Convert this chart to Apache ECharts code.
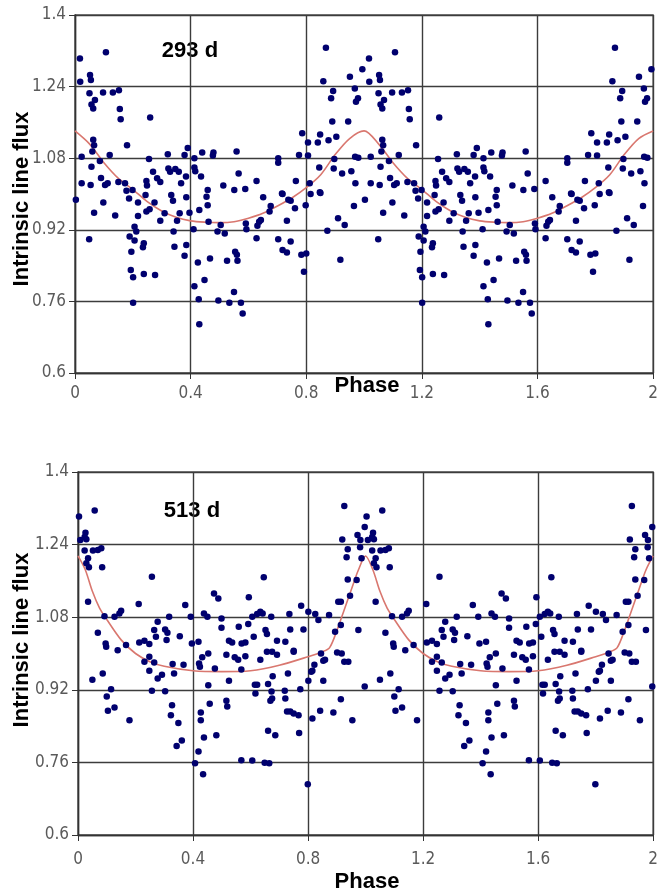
<!DOCTYPE html>
<html>
<head>
<meta charset="utf-8">
<script src="https://cdn.jsdelivr.net/npm/echarts@6/dist/echarts.min.js"></script>
<style>
  html, body { margin: 0; padding: 0; background: #fff; }
  #chart { width: 661px; height: 894px; }
</style>
</head>
<body>
<div id="chart"></div>
<script>
// phase-folded measurements, phase 0..1 (the plot shows two cycles)
const phase293 = [
  0.017, 0.107, 0.018, 0.052, 0.055, 0.05, 0.097, 0.131, 0.152, 0.069, 0.057, 0.063, 0.155, 0.158, 0.26,
  0.063, 0.066, 0.06, 0.18, 0.023, 0.12, 0.086, 0.256, 0.321, 0.39, 0.379, 0.413, 0.44, 0.479, 0.477,
  0.559, 0.703, 0.703, 0.775, 0.786, 0.806, 0.806, 0.84, 0.848, 0.877, 0.904, 0.89, 0.945, 0.886, 0.893,
  0.859, 0.951, 0.994, 0.968, 0.972, 0.979, 0.868, 0.897, 0.969, 0.98, 0.057, 0.09, 0.104, 0.113, 0.023,
  0.054, 0.15, 0.173, 0.178, 0.199, 0.247, 0.249, 0.27, 0.284, 0.295, 0.323, 0.329, 0.347, 0.359, 0.367,
  0.384, 0.413, 0.416, 0.436, 0.459, 0.513, 0.551, 0.566, 0.589, 0.628, 0.716, 0.764, 0.812, 0.847, 0.845,
  0.895, 0.924, 0.956, 0.97, 0.003, 0.098, 0.066, 0.139, 0.187, 0.218, 0.218, 0.244, 0.258, 0.247, 0.275,
  0.31, 0.295, 0.206, 0.212, 0.189, 0.206, 0.195, 0.238, 0.235, 0.049, 0.193, 0.201, 0.238, 0.277, 0.201,
  0.333, 0.339, 0.385, 0.362, 0.353, 0.396, 0.341, 0.344, 0.385, 0.379, 0.41, 0.43, 0.455, 0.459, 0.462,
  0.493, 0.504, 0.518, 0.425, 0.467, 0.448, 0.413, 0.428, 0.496, 0.534, 0.55, 0.574, 0.58, 0.43, 0.526,
  0.554, 0.56, 0.562, 0.591, 0.593, 0.637, 0.643, 0.631, 0.628, 0.651, 0.677, 0.673, 0.718, 0.738, 0.746,
  0.761, 0.733, 0.703, 0.718, 0.733, 0.746, 0.783, 0.8, 0.792, 0.798, 0.815, 0.849, 0.873, 0.91, 0.933,
  0.918, 0.965
];
const flux293 = [
  1.303, 1.317, 1.251, 1.266, 1.255, 1.225, 1.227, 1.227, 1.232, 1.21, 1.2, 1.191, 1.19, 1.167, 1.171,
  1.121, 1.109, 1.095, 1.109, 1.083, 1.087, 1.074, 1.078, 1.089, 1.103, 1.087, 1.08, 1.093, 1.093, 1.086,
  1.095, 1.08, 1.07, 1.087, 1.136, 1.115, 1.086, 1.115, 1.133, 1.12, 1.128, 1.162, 1.162, 1.214, 1.23,
  1.252, 1.262, 1.279, 1.236, 1.206, 1.214, 1.327, 1.078, 1.083, 1.081, 1.061, 1.036, 1.02, 1.024, 1.024,
  1.02, 1.027, 1.024, 1.007, 1.009, 1.029, 1.019, 1.05, 1.035, 1.027, 1.057, 1.05, 1.056, 1.05, 1.024,
  1.039, 1.059, 1.051, 1.039, 1.009, 1.019, 1.009, 1.046, 1.011, 1.029, 1.001, 1.029, 1.024, 1.004, 1.059,
  1.057, 1.046, 1.051, 1.024, 0.987, 0.981, 0.958, 0.952, 0.99, 0.981, 0.951, 0.998, 0.966, 0.961, 0.981,
  0.957, 0.94, 0.927, 0.916, 0.905, 0.896, 0.871, 0.89, 0.881, 0.899, 0.83, 0.814, 0.821, 0.819, 0.757,
  0.998, 0.985, 0.993, 0.957, 0.94, 0.958, 0.916, 0.882, 0.886, 0.862, 0.921, 0.964, 0.994, 0.975, 0.938,
  0.916, 0.931, 0.912, 0.847, 0.856, 0.808, 0.794, 0.765, 0.762, 0.757, 0.781, 0.757, 0.733, 0.709, 0.851,
  0.871, 0.864, 0.851, 0.934, 0.921, 0.938, 0.942, 0.929, 0.901, 0.993, 0.973, 0.961, 1.0, 0.987, 0.985,
  0.968, 0.94, 0.899, 0.875, 0.869, 0.894, 0.864, 0.867, 0.826, 0.975, 1.0, 1.002, 0.918, 0.946, 0.931,
  0.853, 0.973
];

const phase513 = [
  0.0035, 0.058, 0.008, 0.023, 0.026, 0.029, 0.023, 0.052, 0.069, 0.081, 0.084, 0.035, 0.029, 0.038, 0.257,
  0.035, 0.211, 0.092, 0.127, 0.144, 0.15, 0.069, 0.096, 0.098, 0.138, 0.167, 0.213, 0.231, 0.248, 0.265,
  0.271, 0.277, 0.303, 0.311, 0.308, 0.317, 0.354, 0.373, 0.392, 0.396, 0.419, 0.438, 0.45, 0.473, 0.488,
  0.499, 0.499, 0.525, 0.536, 0.559, 0.569, 0.582, 0.592, 0.594, 0.606, 0.611, 0.623, 0.634, 0.642, 0.646,
  0.652, 0.657, 0.672, 0.692, 0.721, 0.735, 0.738, 0.75, 0.776, 0.784, 0.801, 0.825, 0.836, 0.873, 0.894,
  0.905, 0.914, 0.914, 0.926, 0.919, 0.938, 0.934, 0.938, 0.946, 0.969, 0.972, 0.982, 0.981, 0.986, 0.997,
  0.975, 0.901, 0.926, 0.05, 0.086, 0.115, 0.1, 0.104, 0.127, 0.179, 0.231, 0.248, 0.265, 0.248, 0.277,
  0.292, 0.257, 0.303, 0.329, 0.334, 0.367, 0.327, 0.323, 0.349, 0.361, 0.343, 0.421, 0.424, 0.432, 0.453,
  0.453, 0.476, 0.458, 0.427, 0.427, 0.438, 0.481, 0.419, 0.407, 0.435, 0.516, 0.525, 0.516, 0.519, 0.545,
  0.557, 0.568, 0.582, 0.615, 0.623, 0.617, 0.634, 0.657, 0.675, 0.692, 0.677, 0.661, 0.673, 0.675, 0.669,
  0.661, 0.686, 0.568, 0.606, 0.649, 0.665, 0.719, 0.721, 0.73, 0.75, 0.773, 0.801, 0.811, 0.815, 0.822,
  0.769, 0.799, 0.815, 0.842, 0.845, 0.853, 0.859, 0.853, 0.888, 0.914, 0.917, 0.94, 0.954, 0.997, 0.738,
  0.75, 0.767, 0.727
];
const flux513 = [
  1.302, 1.315, 1.25, 1.257, 1.266, 1.252, 1.227, 1.227, 1.228, 1.232, 1.19, 1.21, 1.199, 1.19, 1.169,
  1.114, 1.109, 1.082, 1.081, 1.088, 1.094, 1.046, 1.022, 1.015, 1.007, 1.019, 1.024, 1.028, 1.021, 1.052,
  1.037, 1.07, 1.053, 1.046, 1.03, 1.081, 1.038, 1.107, 1.081, 1.022, 1.026, 1.088, 1.081, 1.132, 1.121,
  1.077, 1.057, 1.028, 1.024, 1.059, 1.022, 1.024, 1.065, 1.124, 1.081, 1.037, 1.087, 1.092, 1.088, 1.168,
  1.052, 1.043, 1.081, 1.028, 1.026, 1.087, 1.053, 1.006, 1.105, 1.053, 1.092, 1.087, 1.074, 1.085, 1.048,
  1.114, 1.114, 1.063, 1.325, 1.251, 1.23, 1.212, 1.163, 1.127, 1.162, 1.261, 1.25, 1.234, 1.21, 1.279,
  1.052, 1.002, 0.982, 0.942, 0.956, 0.921, 0.905, 0.874, 0.881, 0.853, 0.982, 0.993, 0.98, 0.962, 0.945,
  0.953, 0.918, 0.917, 0.977, 0.956, 0.975, 0.886, 0.864, 0.847, 0.808, 0.796, 0.978, 0.971, 0.992, 1.0,
  0.93, 0.967, 0.889, 0.87, 0.853, 0.815, 0.82, 0.784, 0.758, 0.734, 0.997, 0.94, 0.896, 0.883, 0.992,
  0.986, 0.965, 0.994, 0.931, 0.931, 0.912, 0.986, 1.004, 1.004, 0.997, 0.95, 0.933, 0.916, 0.901, 0.896,
  0.83, 0.82, 0.765, 0.764, 0.759, 0.758, 0.918, 0.901, 0.956, 1.004, 0.921, 0.94, 0.96, 0.962, 0.975,
  0.825, 0.712, 0.857, 0.874, 1.0, 0.984, 0.986, 0.94, 0.87, 0.899, 1.0, 0.982, 0.853, 0.927, 0.872,
  0.868, 0.864, 0.872
];

// fitted model curves, one cycle
const fitPhase293 = [0, 0.05, 0.1, 0.15, 0.2, 0.25, 0.3, 0.35, 0.4, 0.45, 0.5, 0.55, 0.6, 0.65, 0.7, 0.75, 0.8, 0.85, 0.9, 0.95];
const fit293 = [1.141, 1.112, 1.07, 1.035, 1.01, 0.983, 0.962, 0.948, 0.94, 0.937, 0.936, 0.938, 0.946, 0.957, 0.973, 0.991, 1.014, 1.043, 1.088, 1.124];
const fitPhase513 = [0, 0.025, 0.05, 0.075, 0.1, 0.15, 0.2, 0.25, 0.3, 0.4, 0.5, 0.6, 0.7, 0.8, 0.85, 0.875, 0.9, 0.925, 0.95, 0.975];
const fit513 = [1.215, 1.185, 1.137, 1.1, 1.075, 1.03, 1.0, 0.982, 0.972, 0.962, 0.96, 0.962, 0.974, 0.993, 1.004, 1.013, 1.05, 1.095, 1.14, 1.184];

const yTicks = [0.6, 0.76, 0.92, 1.08, 1.24, 1.4];
const periods = ['293 d', '513 d'];

// repeat one cycle onto phase 1..2
function twoCycles(ph, vals) {
  const out = [];
  for (let k = 0; k < 2; k++) {
    ph.forEach((p, i) => out.push([p + k, vals[i]]));
  }
  return out;
}
function twoCyclesClosed(ph, vals) {
  const out = twoCycles(ph, vals);
  out.push([2, vals[0]]);
  return out;
}

const gridLine = { color: '#3c3c3c', width: 1.4 };
const labelFont = { color: '#5a5a5a', fontFamily: '"Liberation Sans Narrow", "Arial Narrow", "DejaVu Sans Condensed", sans-serif', fontSize: 17 };

function xAxis(idx, margin) {
  return {
    type: 'value', gridIndex: idx, min: 0, max: 2, interval: 0.4,
    axisLine: { show: true, lineStyle: { color: '#333', width: 1.4 } },
    axisTick: { show: true, length: 6, lineStyle: { color: '#333' } },
    axisLabel: { ...labelFont, margin: margin, formatter: v => String(+v.toFixed(2)) },
    splitLine: { show: true, lineStyle: gridLine }
  };
}
function yAxis(idx) {
  return {
    type: 'value', gridIndex: idx, min: yTicks[0], max: yTicks[yTicks.length - 1], interval: 0.16,
    axisLine: { show: true, lineStyle: { color: '#333', width: 1.4 } },
    axisTick: { show: true, length: 6, lineStyle: { color: '#333' } },
    axisLabel: { ...labelFont, margin: 9, formatter: v => String(+v.toFixed(2)) },
    splitLine: { show: true, lineStyle: gridLine }
  };
}

const dotStyle = { color: '#00006e', opacity: 1 };
const fitStyle = { color: '#d9776f', width: 1.6 };
const bold = 'bold 22px "Liberation Sans", Arial, sans-serif';

const chart = echarts.init(document.getElementById('chart'));
chart.setOption({
  animation: false,
  backgroundColor: '#fff',
  grid: [
    { left: 75, top: 15, width: 581, height: 358, show: true, borderColor: '#555', borderWidth: 1.4 },
    { left: 78, top: 472, width: 578, height: 363, show: true, borderColor: '#555', borderWidth: 1.4 }
  ],
  xAxis: [xAxis(0, 12), xAxis(1, 16)],
  yAxis: [yAxis(0), yAxis(1)],
  series: [
    { type: 'line', xAxisIndex: 0, yAxisIndex: 0, data: twoCyclesClosed(fitPhase293, fit293),
      smooth: 0.3, showSymbol: false, lineStyle: fitStyle, z: 2 },
    { type: 'scatter', xAxisIndex: 0, yAxisIndex: 0, data: twoCycles(phase293, flux293),
      symbolSize: 6.5, itemStyle: dotStyle, z: 3 },
    { type: 'line', xAxisIndex: 1, yAxisIndex: 1, data: twoCyclesClosed(fitPhase513, fit513),
      smooth: 0.3, showSymbol: false, lineStyle: fitStyle, z: 2 },
    { type: 'scatter', xAxisIndex: 1, yAxisIndex: 1, data: twoCycles(phase513, flux513),
      symbolSize: 6.5, itemStyle: dotStyle, z: 3 }
  ],
  graphic: [
    { type: 'text', x: 190, y: 51, style: { text: periods[0], font: bold, fill: '#000', align: 'center', verticalAlign: 'middle' } },
    { type: 'text', x: 192, y: 511, style: { text: periods[1], font: bold, fill: '#000', align: 'center', verticalAlign: 'middle' } },
    { type: 'text', x: 22, y: 199, rotation: Math.PI / 2, style: { text: 'Intrinsic line flux', font: bold, fill: '#000', align: 'center', verticalAlign: 'middle' } },
    { type: 'text', x: 22, y: 640, rotation: Math.PI / 2, style: { text: 'Intrinsic line flux', font: bold, fill: '#000', align: 'center', verticalAlign: 'middle' } },
    { type: 'text', x: 367, y: 386, style: { text: 'Phase', font: bold, fill: '#000', align: 'center', verticalAlign: 'middle' } },
    { type: 'text', x: 367, y: 882, style: { text: 'Phase', font: bold, fill: '#000', align: 'center', verticalAlign: 'middle' } }
  ]
});
</script>
</body>
</html>
